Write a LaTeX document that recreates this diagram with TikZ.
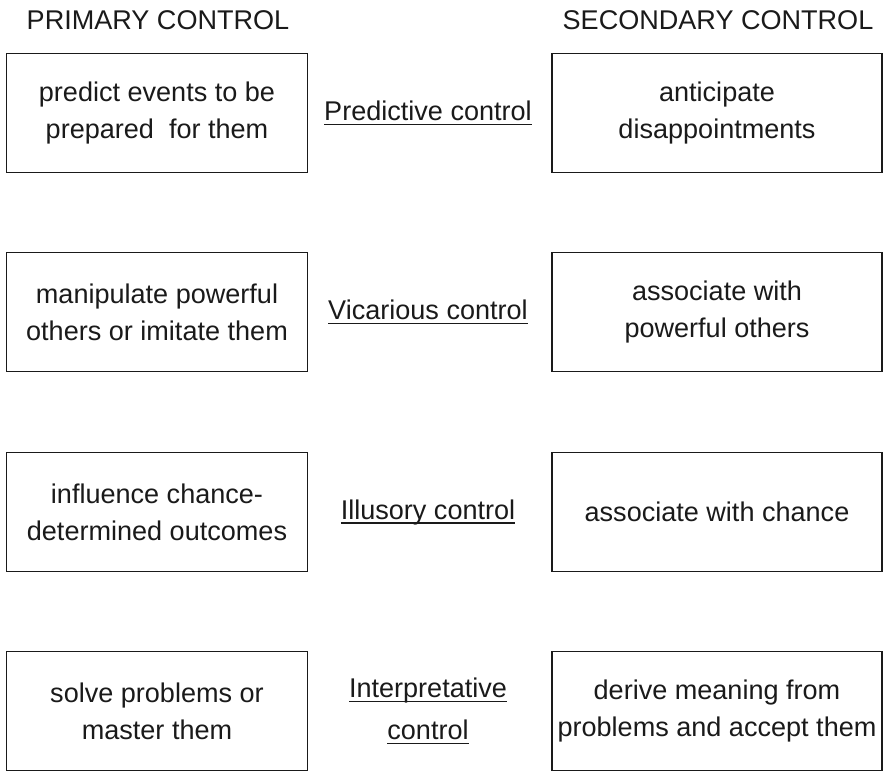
\documentclass[tikz,border=0pt]{standalone}
\usepackage{fontspec}
\setmainfont{Liberation Sans}
\usepackage{tikz}
\usetikzlibrary{positioning}
\definecolor{ctrlInk}{HTML}{1A1A1A}
\newcommand{\ctrlUnder}[1]{\setbox0\hbox{#1}\rlap{\copy0}\rule[-2.6pt]{\wd0}{0.85pt}}

\begin{document}
\begin{tikzpicture}[x=0.02cm,y=-0.02cm,
  font=\fontsize{15.4}{21}\selectfont,text=ctrlInk,
  ctrlBox/.style={draw=ctrlInk,line width=1.1pt,minimum height=2.38cm,
                  inner sep=0pt,align=center},
  primBox/.style={ctrlBox,minimum width=6.02cm},
  secBox/.style={ctrlBox,minimum width=6.6cm},
  kindLbl/.style={align=center,inner sep=0pt}]
\useasboundingbox (0,0) rectangle (884,772);
% column heads
\node[anchor=base] (primHead) at (158,29) {PRIMARY CONTROL};
\node[anchor=base] (secHead)  at (718,29) {SECONDARY CONTROL};
% row 1
\node[primBox] (primA) at (157,113) {predict events to be\\prepared\ \ for them};
\node[secBox]  (secA)  at (717,113) {anticipate\\disappointments};
\node[kindLbl] (kindA) at (428,113) {\ctrlUnder{Predictive control}};
% row 2
\node[primBox] (primB) at (157,312) {manipulate powerful\\others or imitate them};
\node[secBox]  (secB)  at (717,312) {associate with\\powerful others};
\node[kindLbl] (kindB) at (428,312) {\ctrlUnder{Vicarious control}};
% row 3
\node[primBox] (primC) at (157,512) {influence chance-\\determined outcomes};
\node[secBox]  (secC)  at (717,512) {associate with chance};
\node[kindLbl] (kindC) at (428,512) {\ctrlUnder{Illusory control}};
% row 4
\node[primBox] (primD) at (157,711) {solve problems or\\master them};
\node[secBox]  (secD)  at (717,711) {derive meaning from\\problems and accept them};
\node[kindLbl] (kindD) at (428,711) {\ctrlUnder{Interpretative}\\[3pt]\ctrlUnder{control}};
\end{tikzpicture}
\end{document}
